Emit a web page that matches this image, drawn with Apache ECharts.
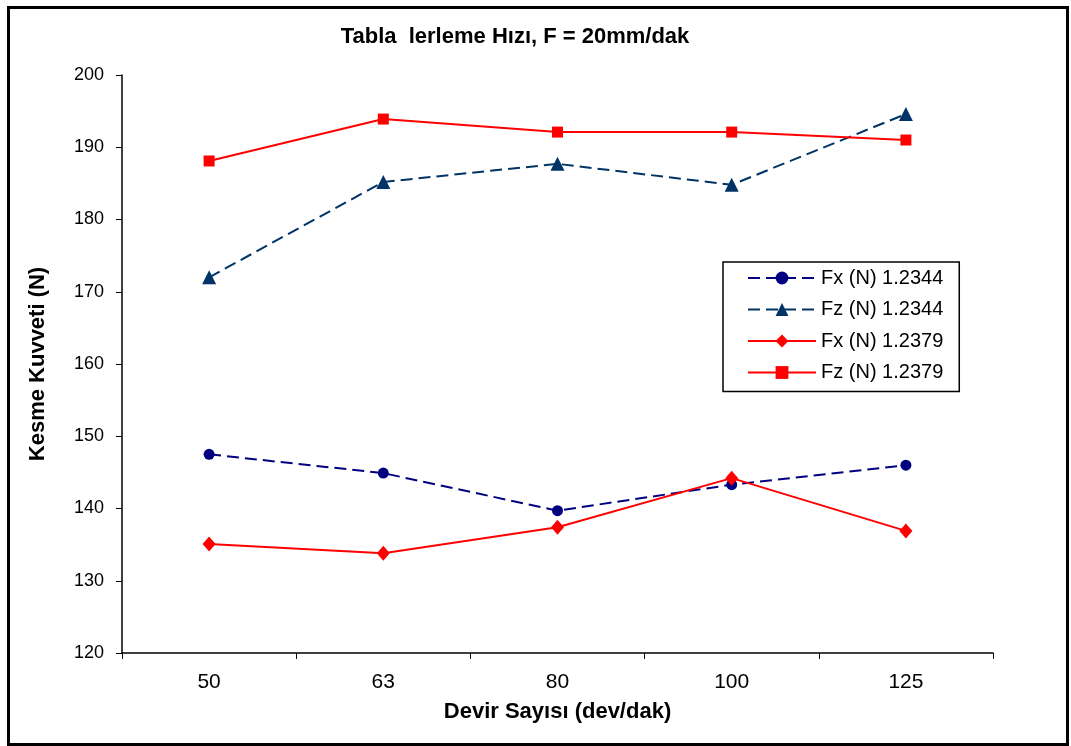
<!DOCTYPE html>
<html>
<head>
<meta charset="utf-8">
<script src="https://cdn.jsdelivr.net/npm/echarts@6/dist/echarts.min.js"></script>
<style>
  html, body { margin: 0; padding: 0; background: #fff; }
  #chart { width: 1071px; height: 746px; }
</style>
</head>
<body>
<div id="chart"></div>
<script>
// Spindle speeds (dev/dak)
const categories = ['50', '63', '80', '100', '125'];

// Cutting forces (N) for two materials
const fx1 = [147.5, 144.9, 139.7, 143.3, 146.0]; // Fx (N) 1.2344
const fz1 = [172.0, 185.2, 187.7, 184.8, 194.6]; // Fz (N) 1.2344
const fx2 = [135.1, 133.8, 137.4, 144.2, 136.9]; // Fx (N) 1.2379
const fz2 = [188.1, 193.9, 192.1, 192.1, 191.0]; // Fz (N) 1.2379

const seriesNames = ['Fx (N) 1.2344', 'Fz (N) 1.2344', 'Fx (N) 1.2379', 'Fz (N) 1.2379'];

const FONT = '"Liberation Sans", Arial, sans-serif';
const chart = echarts.init(document.getElementById('chart'), null, { renderer: 'canvas' });

function lineSeries(name, data, color, symbol, size, dashed) {
  return {
    name: name,
    type: 'line',
    data: data,
    symbol: symbol,
    symbolSize: size,
    showAllSymbol: true,
    animation: false,
    itemStyle: { color: color },
    lineStyle: { color: color, width: 2, type: dashed ? [12, 6] : 'solid' },
    emphasis: { disabled: true }
  };
}

chart.setOption({
  backgroundColor: '#fff',
  animation: false,
  title: {
    text: 'Tabla  lerleme Hızı, F = 20mm/dak',
    left: 510, top: 21, textAlign: 'center',
    textStyle: { fontFamily: FONT, fontSize: 22, fontWeight: 'bold', color: '#000' }
  },
  graphic: [{
    type: 'rect', left: 6, top: 5,
    shape: { width: 1059, height: 737 },
    style: { fill: 'none', stroke: '#000', lineWidth: 3 }
  }],
  legend: {
    orient: 'vertical',
    left: 723, top: 262,
    data: seriesNames,
    itemWidth: 68, itemHeight: 16, itemGap: 11.5,
    padding: [6, 16, 9, 24],
    backgroundColor: '#fff',
    borderColor: '#000', borderWidth: 1.5,
    textStyle: { fontFamily: FONT, fontSize: 20, lineHeight: 20, color: '#000' }
  },
  grid: { left: 122, right: 78, top: 75, bottom: 93 },
  xAxis: {
    type: 'category',
    data: categories,
    boundaryGap: true,
    name: 'Devir Sayısı (dev/dak)',
    nameLocation: 'middle', nameGap: 48,
    nameTextStyle: { fontFamily: FONT, fontSize: 22, fontWeight: 'bold', color: '#000' },
    axisLine: { lineStyle: { color: '#000', width: 1.5 } },
    axisTick: { show: true, alignWithLabel: false, length: 6, lineStyle: { color: '#000', width: 1 } },
    axisLabel: { fontFamily: FONT, fontSize: 21, color: '#000', margin: 19 },
    splitLine: { show: false }
  },
  yAxis: {
    type: 'value',
    min: 120, max: 200, interval: 10,
    name: 'Kesme Kuvveti (N)',
    nameLocation: 'middle', nameGap: 73, nameRotate: 90,
    nameTextStyle: { fontFamily: FONT, fontSize: 22, fontWeight: 'bold', color: '#000' },
    axisLine: { show: true, lineStyle: { color: '#000', width: 1.5 } },
    axisTick: { show: true, length: 6, lineStyle: { color: '#000', width: 1 } },
    axisLabel: { fontFamily: FONT, fontSize: 18, color: '#000', margin: 18 },
    splitLine: { show: false }
  },
  series: [
    lineSeries(seriesNames[0], fx1, '#000080', 'circle', 11, true),
    lineSeries(seriesNames[1], fz1, '#003366', 'triangle', 14, true),
    lineSeries(seriesNames[2], fx2, '#FF0000', 'diamond', [13, 15], false),
    lineSeries(seriesNames[3], fz2, '#FF0000', 'rect', 11, false)
  ]
});
</script>
</body>
</html>
